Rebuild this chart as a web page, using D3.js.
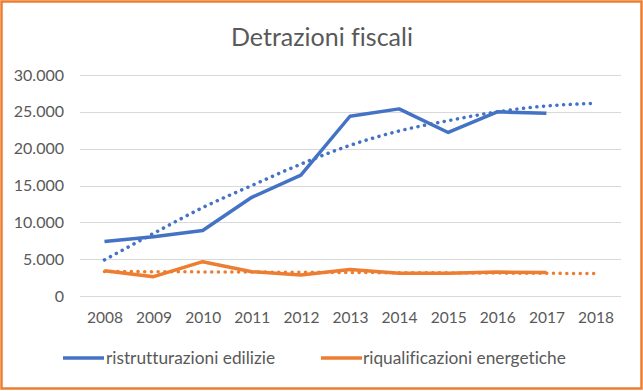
<!DOCTYPE html>
<html><head><meta charset="utf-8">
<script src="https://cdn.jsdelivr.net/npm/d3@7/dist/d3.min.js"></script>
<style>html,body{margin:0;padding:0;background:#fff}svg{display:block}text{font-variant-ligatures:none}</style>
</head><body><svg id="c" width="643" height="391"></svg>
<script>
const years = ["2008","2009","2010","2011","2012","2013","2014","2015","2016","2017","2018"];
const ristrutturazioni = [7400, 8050, 8900, 13400, 16400, 24400, 25400, 22200, 25000, 24800];
const riqualificazioni = [3430, 2620, 4660, 3300, 2850, 3600, 3100, 3100, 3250, 3200];
const trendRistrutturazioni = [4900, 8500, 12000, 15000, 17900, 20450, 22400, 23800, 25000, 25800, 26150];
const trendRiqualificazioni = [3330, 3300, 3270, 3250, 3220, 3190, 3160, 3140, 3110, 3080, 3050];
const yTicks = [0, 5000, 10000, 15000, 20000, 25000, 30000];
const seriesNames = ["ristrutturazioni edilizie", "riqualificazioni energetiche"];
const colors = ["#4472C4", "#ED7D31"];

const svg = d3.select("#c");
const font = "Lato, 'Open Sans', sans-serif";
const textCol = "#595959";

svg.append("rect").attr("x",1.5).attr("y",1.5).attr("width",640).attr("height",387)
  .attr("fill","#fff").attr("stroke","#ED7D31").attr("stroke-width",2.5);

svg.append("text").attr("x",322).attr("y",46).attr("text-anchor","middle")
  .attr("font-family",font).attr("font-size",25).attr("fill",textCol).text("Detrazioni fiscali");

const x = d3.scalePoint().domain(years).range([104.5, 595.5]);
const y = d3.scaleLinear().domain([0, 30000]).range([296, 75]);

const fmt = v => d3.format(",")(v).replace(/,/g, ".");

// grid
svg.append("g").selectAll("line").data(yTicks).join("line")
  .attr("x1",80).attr("x2",621).attr("y1",d=>Math.round(y(d))+0.5).attr("y2",d=>Math.round(y(d))+0.5)
  .attr("stroke","#d9d9d9").attr("stroke-width",1);

const yAxis = svg.append("g").attr("transform","translate(68,0)")
  .call(d3.axisLeft(y).tickValues(yTicks).tickFormat(fmt).tickSize(0).tickPadding(4));
yAxis.select(".domain").remove();
yAxis.selectAll("text").attr("font-family",font).attr("font-size",16).attr("fill",textCol);

const xAxis = svg.append("g").attr("transform","translate(0,308)")
  .call(d3.axisBottom(x).tickSize(0).tickPadding(4));
xAxis.select(".domain").remove();
xAxis.selectAll("text").attr("font-family",font).attr("font-size",15.5).attr("fill",textCol);

const line = d3.line().x((d,i)=>x(years[i])).y(d=>y(d));
const curve = d3.line().x((d,i)=>x(years[i])).y(d=>y(d)).curve(d3.curveMonotoneX);

[trendRistrutturazioni, trendRiqualificazioni].forEach((t,k)=>{
  svg.append("path").datum(t).attr("d",curve).attr("fill","none")
    .attr("stroke",colors[k]).attr("stroke-width",3.5).attr("stroke-linecap","round")
    .attr("stroke-dasharray","0.1 6.6");
});
[ristrutturazioni, riqualificazioni].forEach((s,k)=>{
  svg.append("path").datum(s).attr("d",line).attr("fill","none")
    .attr("stroke",colors[k]).attr("stroke-width",3.5).attr("stroke-linejoin","round");
});

// legend
const leg = [{x:63, tx:106}, {x:321, tx:363}];
seriesNames.forEach((n,k)=>{
  svg.append("line").attr("x1",leg[k].x).attr("x2",leg[k].x+41).attr("y1",358).attr("y2",358)
    .attr("stroke",colors[k]).attr("stroke-width",3.5);
  svg.append("text").attr("x",leg[k].tx).attr("y",364).attr("font-family",font).attr("font-size",17.3)
    .attr("fill",textCol).text(n);
});
</script></body></html>
